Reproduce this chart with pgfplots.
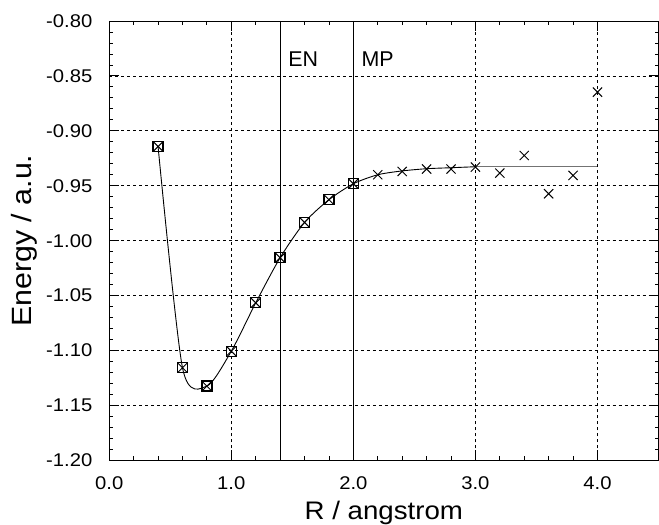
\documentclass[border=0pt]{standalone}
\usepackage{pgfplots}
\pgfplotsset{compat=1.18}
\usepackage{fontspec}
\setmainfont{Liberation Sans}
\newfontfamily\tickfont{Liberation Sans}[FakeStretch=1.1]
\newfontfamily\labfont{Liberation Sans}[FakeStretch=1.09]
\begin{document}
\begin{tikzpicture}
\begin{axis}[
  scale only axis, width=550bp, height=440bp,
  xmin=0, xmax=4.5, ymin=-1.2, ymax=-0.8,
  xtick={0,1,2,3,4}, xticklabels={0.0,1.0,2.0,3.0,4.0},
  ytick={-1.2,-1.15,-1.1,-1.05,-1,-0.95,-0.9,-0.85,-0.8},
  yticklabel style={/pgf/number format/fixed, /pgf/number format/fixed zerofill, /pgf/number format/precision=2},
  /pgf/number format/assume math mode=true,
  minor x tick num=4, minor y tick num=4,
  tick align=inside,
  major tick length=10bp, minor tick length=4bp,
  every tick/.style={black, line width=0.8bp},
  axis line style={black, line width=0.9bp},
  grid=major,
  major grid style={black, line width=0.7bp, dash pattern=on 3bp off 3bp},
  tick label style={font=\tickfont\fontsize{18.5}{20}\selectfont},
  xticklabel style={anchor=base, inner sep=0pt, yshift=-29.5bp},
  yticklabel style={anchor=east, inner sep=0pt, xshift=-16.7bp},
  xlabel={R / angstrom}, ylabel={Energy / a.u.},
  xlabel style={font=\labfont\fontsize{25.5}{27}\selectfont, at={(axis description cs:0.5,0)}, anchor=base, inner sep=0pt, yshift=-59bp},
  ylabel style={font=\labfont\fontsize{28}{30}\selectfont, at={(axis description cs:-0.1413,0.5)}, anchor=base, inner sep=0pt},
  clip=false,
]
% vertical marker lines
\addplot[black, line width=0.9bp] coordinates {(1.4,-1.2) (1.4,-0.8)};
\addplot[black, line width=0.9bp] coordinates {(2.0,-1.2) (2.0,-0.8)};
\node[anchor=west, inner sep=0pt, font=\fontsize{21.5}{24}\selectfont] at (axis cs:1.4,-0.8345) {\hspace{8bp}EN};
\node[anchor=west, inner sep=0pt, font=\fontsize{21.5}{24}\selectfont] at (axis cs:2.0,-0.8345) {\hspace{8bp}MP};
% fitted curve
\addplot[black, line width=0.9bp, smooth, tension=0.45] coordinates {
 (0.4,-0.9143) (0.6,-1.1157) (0.8,-1.1324) (1.0,-1.1006) (1.2,-1.0566)
 (1.4,-1.0155) (1.6,-0.9834) (1.8,-0.9627) (2.0,-0.9482) (2.2,-0.9400)
 (2.4,-0.9365) (2.6,-0.9345) (2.8,-0.9336) (3.0,-0.9327)};
\addplot[black!55, line width=1.2bp] coordinates {(3.0,-0.9327) (4.0,-0.9327)};
% square markers
\addplot[only marks, mark=square, mark size=5bp, mark options={line width=1.3bp, black}] coordinates {
 (0.4,-0.9143) (0.6,-1.1157) (0.8,-1.1324) (1.0,-1.1006) (1.2,-1.0566)
 (1.4,-1.0155) (1.6,-0.9834) (1.8,-0.9627) (2.0,-0.9482)};
% cross markers
\addplot[only marks, mark=x, mark size=6.5bp, mark options={line width=1.0bp, black}] coordinates {
 (0.4,-0.9143) (0.6,-1.1157) (0.8,-1.1324) (1.0,-1.1006) (1.2,-1.0566)
 (1.4,-1.0155) (1.6,-0.9834) (1.8,-0.9627) (2.0,-0.9482) (2.2,-0.9400)
 (2.4,-0.9370) (2.6,-0.9348) (2.8,-0.9348) (3.0,-0.9330) (3.2,-0.9385)
 (3.4,-0.9225) (3.6,-0.9573) (3.8,-0.9406) (4.0,-0.8648)};
\end{axis}
\pgfresetboundingbox
\path (current axis.south west) +(-109.4bp,-64bp) (current axis.north east) +(0.5bp,21bp);
\end{tikzpicture}
\end{document}
